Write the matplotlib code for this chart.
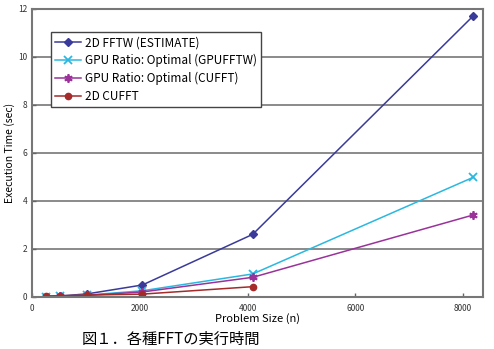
import matplotlib.pyplot as plt

plt.rcParams['font.family'] = ['Noto Sans CJK JP', 'DejaVu Sans']

# problem sizes and execution times (sec)
sizes = [256, 512, 1024, 2048, 4096, 8192]
fftw_estimate = [0.01, 0.04, 0.13, 0.50, 2.61, 11.72]
gpu_ratio_gpufftw = [0.01, 0.03, 0.08, 0.26, 0.96, 4.99]
gpu_ratio_cufft = [0.01, 0.03, 0.07, 0.21, 0.82, 3.42]
cufft_sizes = [256, 512, 1024, 2048, 4096]
cufft_2d = [0.04, 0.05, 0.08, 0.12, 0.43]

fig = plt.figure(figsize=(4.94, 3.49), dpi=100)
ax = fig.add_axes([32 / 494, 52 / 349, 451 / 494, 288 / 349])

ax.plot(sizes, fftw_estimate, color='#3a3a9a', marker='D', markersize=4,
        linewidth=1.1, label='2D FFTW (ESTIMATE)')
ax.plot(sizes, gpu_ratio_gpufftw, color='#2ab8e0', marker='x', markersize=6,
        markeredgewidth=1.3, linewidth=1.1, label='GPU Ratio: Optimal (GPUFFTW)')
ax.plot(sizes, gpu_ratio_cufft, color='#9a329a', marker=(6, 2, 0), markersize=6,
        markeredgewidth=1.3, linewidth=1.1, label='GPU Ratio: Optimal (CUFFT)')
ax.plot(cufft_sizes, cufft_2d, color='#a52a2a', marker='o', markersize=4.5,
        linewidth=1.1, label='2D CUFFT')

ax.set_xlim(0, 8370)
ax.set_ylim(0, 12)
ax.set_xticks([0, 2000, 4000, 6000, 8000])
ax.set_yticks([0, 2, 4, 6, 8, 10, 12])
ax.tick_params(labelsize=6, length=3, color='#666666', width=1,
               direction='in', labelcolor='#333333')
ax.tick_params(axis='x', pad=5)
ax.yaxis.grid(True, color='#777777', linewidth=1.2)
ax.set_axisbelow(True)
for s in ax.spines.values():
    s.set_color('#777777')
    s.set_linewidth(1.5)

ax.set_xlabel('Problem Size (n)', fontsize=8, labelpad=0)
ax.set_ylabel('Execution Time (sec)', fontsize=7.5, labelpad=2)

leg = ax.legend(loc='upper left', bbox_to_anchor=(0.028, 0.94), fontsize=8.5,
                frameon=True, fancybox=False, framealpha=1, borderpad=0.35,
                labelspacing=0.4, handlelength=2.2, handletextpad=0.4)
leg.get_frame().set_edgecolor('#444444')
leg.get_frame().set_linewidth(1.0)

fig.text(0.165, 0.004, '図１．各種FFTの実行時間', fontsize=11, va='bottom',
         ha='left')

fig.savefig('out.png', dpi=100)
